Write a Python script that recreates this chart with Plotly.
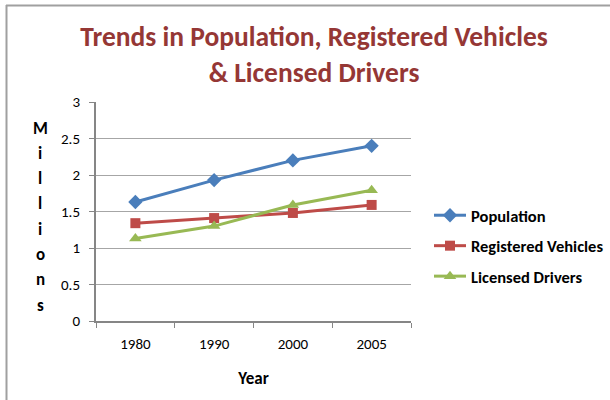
import plotly.graph_objects as go

years = ["1980", "1990", "2000", "2005"]
population = [1.63, 1.93, 2.20, 2.40]
registered_vehicles = [1.34, 1.41, 1.48, 1.59]
licensed_drivers = [1.13, 1.30, 1.59, 1.79]

series_names = ["Population", "Registered Vehicles", "Licensed Drivers"]
y_title = "Millions"
x_title = "Year"
chart_title = "Trends in Population, Registered Vehicles<br>& Licensed Drivers"

W, H = 610, 400
L, R, T, B = 96, 199, 102, 79
PW, PH = W - L - R, H - T - B

def px_x(x):
    return (x - L) / PW

def px_y(y):
    return (H - B - y) / PH

FONT = "Carlito, Calibri, Lato, Liberation Sans, sans-serif"

fig = go.Figure()
styles = [
    ("#4A7EBB", "diamond", 11),
    ("#BE4B48", "square", 10),
    ("#98B954", "triangle-up", 11),
]
for i, (name, vals, (col, sym, sz)) in enumerate(zip(series_names, [population, registered_vehicles, licensed_drivers], styles)):
    fig.add_trace(go.Scatter(
        x=years, y=vals, name="<b>" + name + "</b>", mode="lines+markers",
        legendgroup="g%d" % i,
        line=dict(color=col, width=3),
        marker=dict(symbol=sym, size=sz, color=col),
    ))

fig.update_layout(
    width=W, height=H,
    margin=dict(l=L, r=R, t=T, b=B, autoexpand=False),
    paper_bgcolor="white", plot_bgcolor="white",
    font=dict(family=FONT, color="#000000", size=15),
    title=dict(text="<b>" + chart_title + "</b>", x=314 / W, xanchor="center",
               y=1 - 46 / H, yanchor="middle",
               font=dict(family=FONT, size=27.5, color="#953735")),
    showlegend=True,
    legend=dict(x=px_x(429), xanchor="left", y=px_y(246), yanchor="middle",
                font=dict(family=FONT, size=16.5, color="#000000"),
                bgcolor="rgba(0,0,0,0)", tracegroupgap=6, itemwidth=32),
    xaxis=dict(
        type="category", tickson="boundaries", ticks="outside", ticklen=5,
        tickcolor="#868686", showline=True, linecolor="#868686", linewidth=2,
        showgrid=False, tickfont=dict(size=15), ticklabelstandoff=8,
        title=dict(text="<b>" + x_title + "</b>", font=dict(size=17), standoff=20),
        range=[-0.5, 3.5],
    ),
    yaxis=dict(
        range=[0, 3], dtick=0.5, ticks="outside", ticklen=5, tickcolor="#868686",
        showline=True, linecolor="#868686", linewidth=2,
        showgrid=True, gridcolor="#A6A6A6", gridwidth=1,
        tickfont=dict(size=15), zeroline=False, ticklabelstandoff=6,
    ),
)

# vertical stacked y-axis title
for i, ch in enumerate(y_title):
    fig.add_annotation(text="<b>" + ch + "</b>", x=px_x(40), y=px_y(128 + i * 25.3),
                       xref="paper", yref="paper", showarrow=False,
                       xanchor="center", yanchor="middle",
                       font=dict(family=FONT, size=17, color="#000000"))

# chart frame (top and left edges visible)
fig.add_shape(type="line", xref="paper", yref="paper",
              x0=px_x(6), x1=px_x(W + 5), y0=px_y(5.5), y1=px_y(5.5),
              line=dict(color="#A0A0A0", width=2))
fig.add_shape(type="line", xref="paper", yref="paper",
              x0=px_x(6.5), x1=px_x(6.5), y0=px_y(5), y1=px_y(H + 5),
              line=dict(color="#A0A0A0", width=2))

fig.write_html("out.html", config={"displayModeBar": False},
               post_script="document.body.style.margin='0';")
